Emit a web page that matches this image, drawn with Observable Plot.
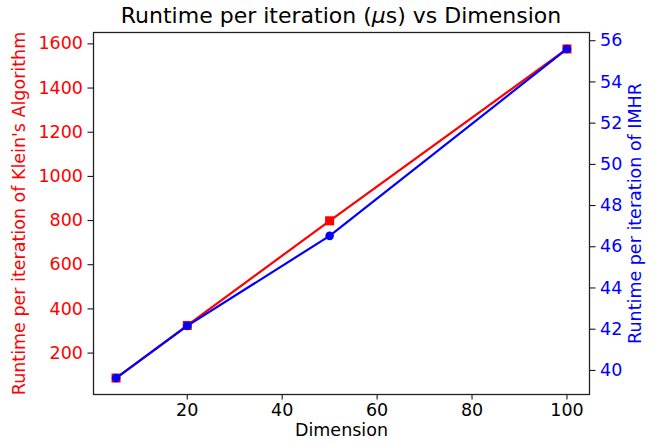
<!DOCTYPE html>
<html><head><meta charset="utf-8">
<script src="https://cdn.jsdelivr.net/npm/d3@7"></script>
<script src="https://cdn.jsdelivr.net/npm/@observablehq/plot@0.6"></script>
<style>
body{margin:0;background:#fff;}
#wrap{position:relative;width:667px;height:444px;font-family:"DejaVu Sans",sans-serif;}
#wrap svg{position:absolute;left:0;top:0;background:transparent;}
#title{position:absolute;left:43px;width:596px;top:3px;text-align:center;font-size:22px;color:#000;white-space:nowrap;z-index:3;}
</style></head><body>
<div id="wrap"><div id="title">Runtime per iteration (<i>μ</i>s) vs Dimension</div></div>
<script>
const dimension = [5, 20, 50, 100];
const kleinRuntime = [87, 325, 799, 1577];
const imhrRuntime = [39.63, 42.16, 46.53, 55.6];
const xTicks = [20, 40, 60, 80, 100];
const leftTicks = [200, 400, 600, 800, 1000, 1200, 1400, 1600];
const rightTicks = [40, 42, 44, 46, 48, 50, 52, 54, 56];
const xLabel = "Dimension";
const leftLabel = "Runtime per iteration of Klein's Algorithm";
const rightLabel = "Runtime per iteration of IMHR";

const klein = dimension.map((d, i) => ({d, v: kleinRuntime[i]}));
const imhr = dimension.map((d, i) => ({d, v: imhrRuntime[i]}));

const W = 667, H = 444;
const M = {marginLeft: 93, marginRight: 78, marginTop: 32, marginBottom: 50};
const xDom = [0.25, 104.75];
const FS = 17.5;
const fmt = d => String(d);

const main = Plot.plot({
  width: W, height: H, ...M,
  style: {fontFamily: "DejaVu Sans", fontSize: FS + "px", background: "transparent", overflow: "visible"},
  x: {domain: xDom, axis: null},
  y: {domain: [12.5, 1651.5], axis: null},
  marks: [
    Plot.axisX({ticks: xTicks, tickFormat: fmt, tickSize: 5.5, tickPadding: 4, fontSize: FS, stroke: "black", fill: "black", label: null}),
    Plot.axisY({anchor: "left", ticks: leftTicks, tickFormat: fmt, tickSize: 5.5, tickPadding: 5, fontSize: FS, stroke: "black", fill: "red", label: null}),
    Plot.line(klein, {x: "d", y: "v", stroke: "red", strokeWidth: 2.2}),
    Plot.dot(klein, {x: "d", y: "v", symbol: "square", r: 5.1, fill: "red", stroke: "none"}),
    Plot.text([xLabel], {frameAnchor: "bottom", dy: 41, fill: "black", fontSize: FS}),
    Plot.text([leftLabel], {frameAnchor: "left", textAnchor: "middle", dx: -74, rotate: -90, fill: "red", fontSize: FS})
  ]
});

const overlay = Plot.plot({
  width: W, height: H, ...M,
  style: {fontFamily: "DejaVu Sans", fontSize: FS + "px", background: "transparent", overflow: "visible"},
  x: {domain: xDom, axis: null},
  y: {domain: [38.83, 56.4], axis: null},
  marks: [
    Plot.axisY({anchor: "right", ticks: rightTicks, tickFormat: fmt, tickSize: 5.5, tickPadding: 5, fontSize: FS, stroke: "black", fill: "blue", label: null}),
    Plot.line(imhr, {x: "d", y: "v", stroke: "blue", strokeWidth: 2.2}),
    Plot.dot(imhr, {x: "d", y: "v", symbol: "circle", r: 4.3, fill: "blue", stroke: "none"}),
    Plot.text([rightLabel], {frameAnchor: "right", textAnchor: "middle", dx: 46, rotate: -90, fill: "blue", fontSize: FS}),
    Plot.frame({stroke: "#222", strokeWidth: 1.3})
  ]
});

const wrap = document.getElementById("wrap");
wrap.appendChild(main);
wrap.appendChild(overlay);
</script>
</body></html>
